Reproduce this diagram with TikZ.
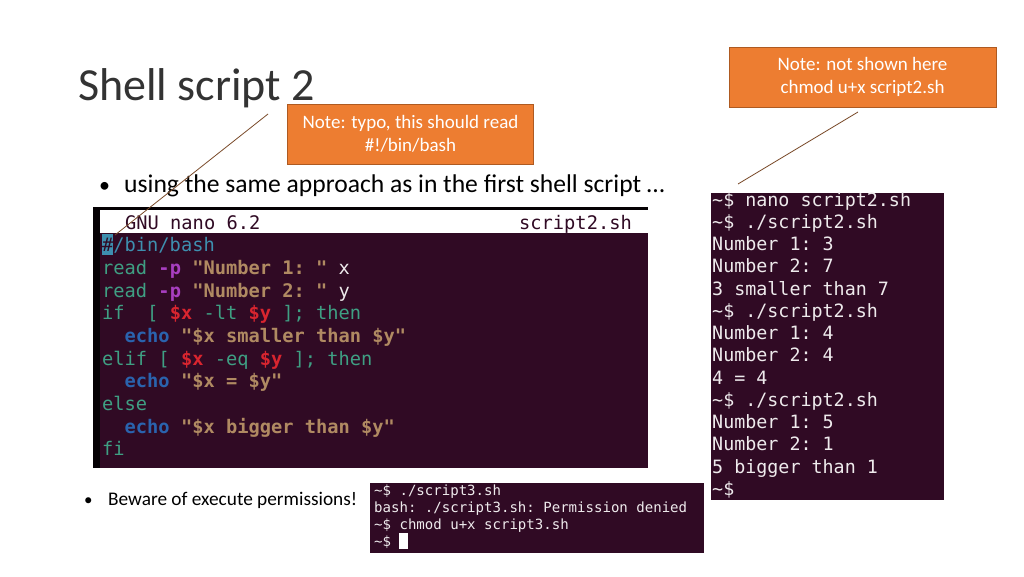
\documentclass[tikz,border=0pt]{standalone}
\usepackage{fontspec}
\setmainfont{Carlito}
\setmonofont{DejaVu Sans Mono}
\definecolor{termbg}{HTML}{300A24}
\definecolor{noteorange}{HTML}{ED7D31}
\definecolor{noteedge}{HTML}{AE5A21}
\definecolor{linkline}{HTML}{7A4A2A}
\definecolor{kwgreen}{HTML}{3F9F83}
\definecolor{kwpurple}{HTML}{A83FC0}
\definecolor{kwstring}{HTML}{B08A62}
\definecolor{kwred}{HTML}{D9252F}
\definecolor{kwblue}{HTML}{2A63AE}
\definecolor{kwcyan}{HTML}{3E8FAF}
\definecolor{termtext}{HTML}{EEEAEC}
\tikzset{
  notebox/.style={draw=noteedge,line width=1pt,fill=noteorange,text=white,align=center,font=\fontsize{19}{23}\selectfont,inner sep=0pt},
  codeline/.style={anchor=base west,inner sep=0pt,font=\fontsize{18.7}{20}\ttfamily,text=termtext},
  shellline/.style={anchor=base west,inner sep=0pt,font=\fontsize{18.35}{20}\ttfamily,text=termtext},
  smallline/.style={anchor=base west,inner sep=0pt,font=\fontsize{14.05}{16}\ttfamily,text=termtext},
  bodytext/.style={anchor=base west,inner sep=0pt,text=black}
}
\begin{document}
\begin{tikzpicture}[x=1pt,y=-1pt]
  \useasboundingbox (0,0) rectangle (1024,576);
  \fill[white] (0,0) rectangle (1024,576);
  % heading and bullets
  \node[bodytext,font=\fontsize{46}{50}\selectfont,text=black!80] (title) at (78,100) {Shell script 2};
  \node[bodytext,font=\fontsize{22}{28}\selectfont] (bulleta) at (99,192) {•};
  \node[bodytext,font=\fontsize{25.6}{28}\selectfont] (usetext) at (124,192) {using the same approach as in the first shell script …};
  \node[bodytext,font=\fontsize{17}{22}\selectfont] (bulletb) at (84,505) {•};
  \node[bodytext,font=\fontsize{19.3}{22}\selectfont] (bewaretext) at (108,505) {Beware of execute permissions!};
  % nano window
  \fill[black!90!termbg] (93,207) rectangle (648,468);
  \fill[termbg] (100,233) rectangle (648,468);
  \fill[white] (100,210) rectangle (648,233);
  \fill[kwcyan] (102,234) rectangle (113,255);
  \node[codeline,text=termbg] (nanohead) at (125,229) {GNU nano 6.2};
  \node[codeline,text=termbg] (nanofile) at (519,229) {script2.sh};
  \node[codeline] (linea) at (102,251) {\textcolor{termbg}{\#}\textcolor{kwcyan}{/bin/bash}};
  \node[codeline] (lineb) at (102,274) {\textcolor{kwgreen}{read} \textcolor{kwpurple}{\bfseries -p} \textcolor{kwstring}{\bfseries "Number 1: "} x};
  \node[codeline] (linec) at (102,297) {\textcolor{kwgreen}{read} \textcolor{kwpurple}{\bfseries -p} \textcolor{kwstring}{\bfseries "Number 2: "} y};
  \node[codeline] (lined) at (102,319) {\textcolor{kwgreen}{if\ \ [} \textcolor{kwred}{\bfseries \$x} \textcolor{kwgreen}{-lt} \textcolor{kwred}{\bfseries \$y} \textcolor{kwgreen}{]; then}};
  \node[codeline] (linee) at (102,342) {\ \ \textcolor{kwblue}{\bfseries echo} \textcolor{kwstring}{\bfseries "\$x smaller than \$y"}};
  \node[codeline] (linef) at (102,365) {\textcolor{kwgreen}{elif [} \textcolor{kwred}{\bfseries \$x} \textcolor{kwgreen}{-eq} \textcolor{kwred}{\bfseries \$y} \textcolor{kwgreen}{]; then}};
  \node[codeline] (lineg) at (102,387) {\ \ \textcolor{kwblue}{\bfseries echo} \textcolor{kwstring}{\bfseries "\$x = \$y"}};
  \node[codeline,text=kwgreen] (lineh) at (102,410) {else};
  \node[codeline] (linei) at (102,433) {\ \ \textcolor{kwblue}{\bfseries echo} \textcolor{kwstring}{\bfseries "\$x bigger than \$y"}};
  \node[codeline,text=kwgreen] (linej) at (102,455) {fi};
  % shell session on the right
  \fill[termbg] (711,193) rectangle (944,500);
  \foreach \ypos/\shelltext [count=\i] in {206/{\textasciitilde\$ nano script2.sh},228/{\textasciitilde\$ ./script2.sh},250/{Number 1: 3},272/{Number 2: 7},295/{3 smaller than 7},317/{\textasciitilde\$ ./script2.sh},339/{Number 1: 4},361/{Number 2: 4},384/{4 = 4},406/{\textasciitilde\$ ./script2.sh},428/{Number 1: 5},450/{Number 2: 1},473/{5 bigger than 1},495/{\textasciitilde\$}}
    \node[shellline] (shell\i) at (712,\ypos) {\shelltext};
  % permission session
  \fill[termbg] (370,483) rectangle (704,553);
  \foreach \ypos/\shelltext [count=\i] in {495/{\textasciitilde\$ ./script3.sh},512/{bash: ./script3.sh: Permission denied},529/{\textasciitilde\$ chmod u+x script3.sh},546/{\textasciitilde\$}}
    \node[smallline] (perm\i) at (374,\ypos) {\shelltext};
  \fill[white] (399,533) rectangle (408,549);
  % notes
  \node[notebox,minimum width=246pt,minimum height=60pt] (typonote) at (410.5,134) {Note: typo, this should read\\\#!/bin/bash};
  \node[notebox,minimum width=267pt,minimum height=60pt] (chmodnote) at (862.5,77) {Note: not shown here\\chmod u+x script2.sh};
  % connectors
  \coordinate (typostart) at (268,114);
  \coordinate (typoend) at (115,235);
  \coordinate (chmodstart) at (858,112);
  \coordinate (chmodend) at (738,184);
  \draw[linkline,line width=0.8pt] (typostart)--(typoend);
  \draw[linkline,line width=0.8pt] (chmodstart)--(chmodend);
\end{tikzpicture}
\end{document}
